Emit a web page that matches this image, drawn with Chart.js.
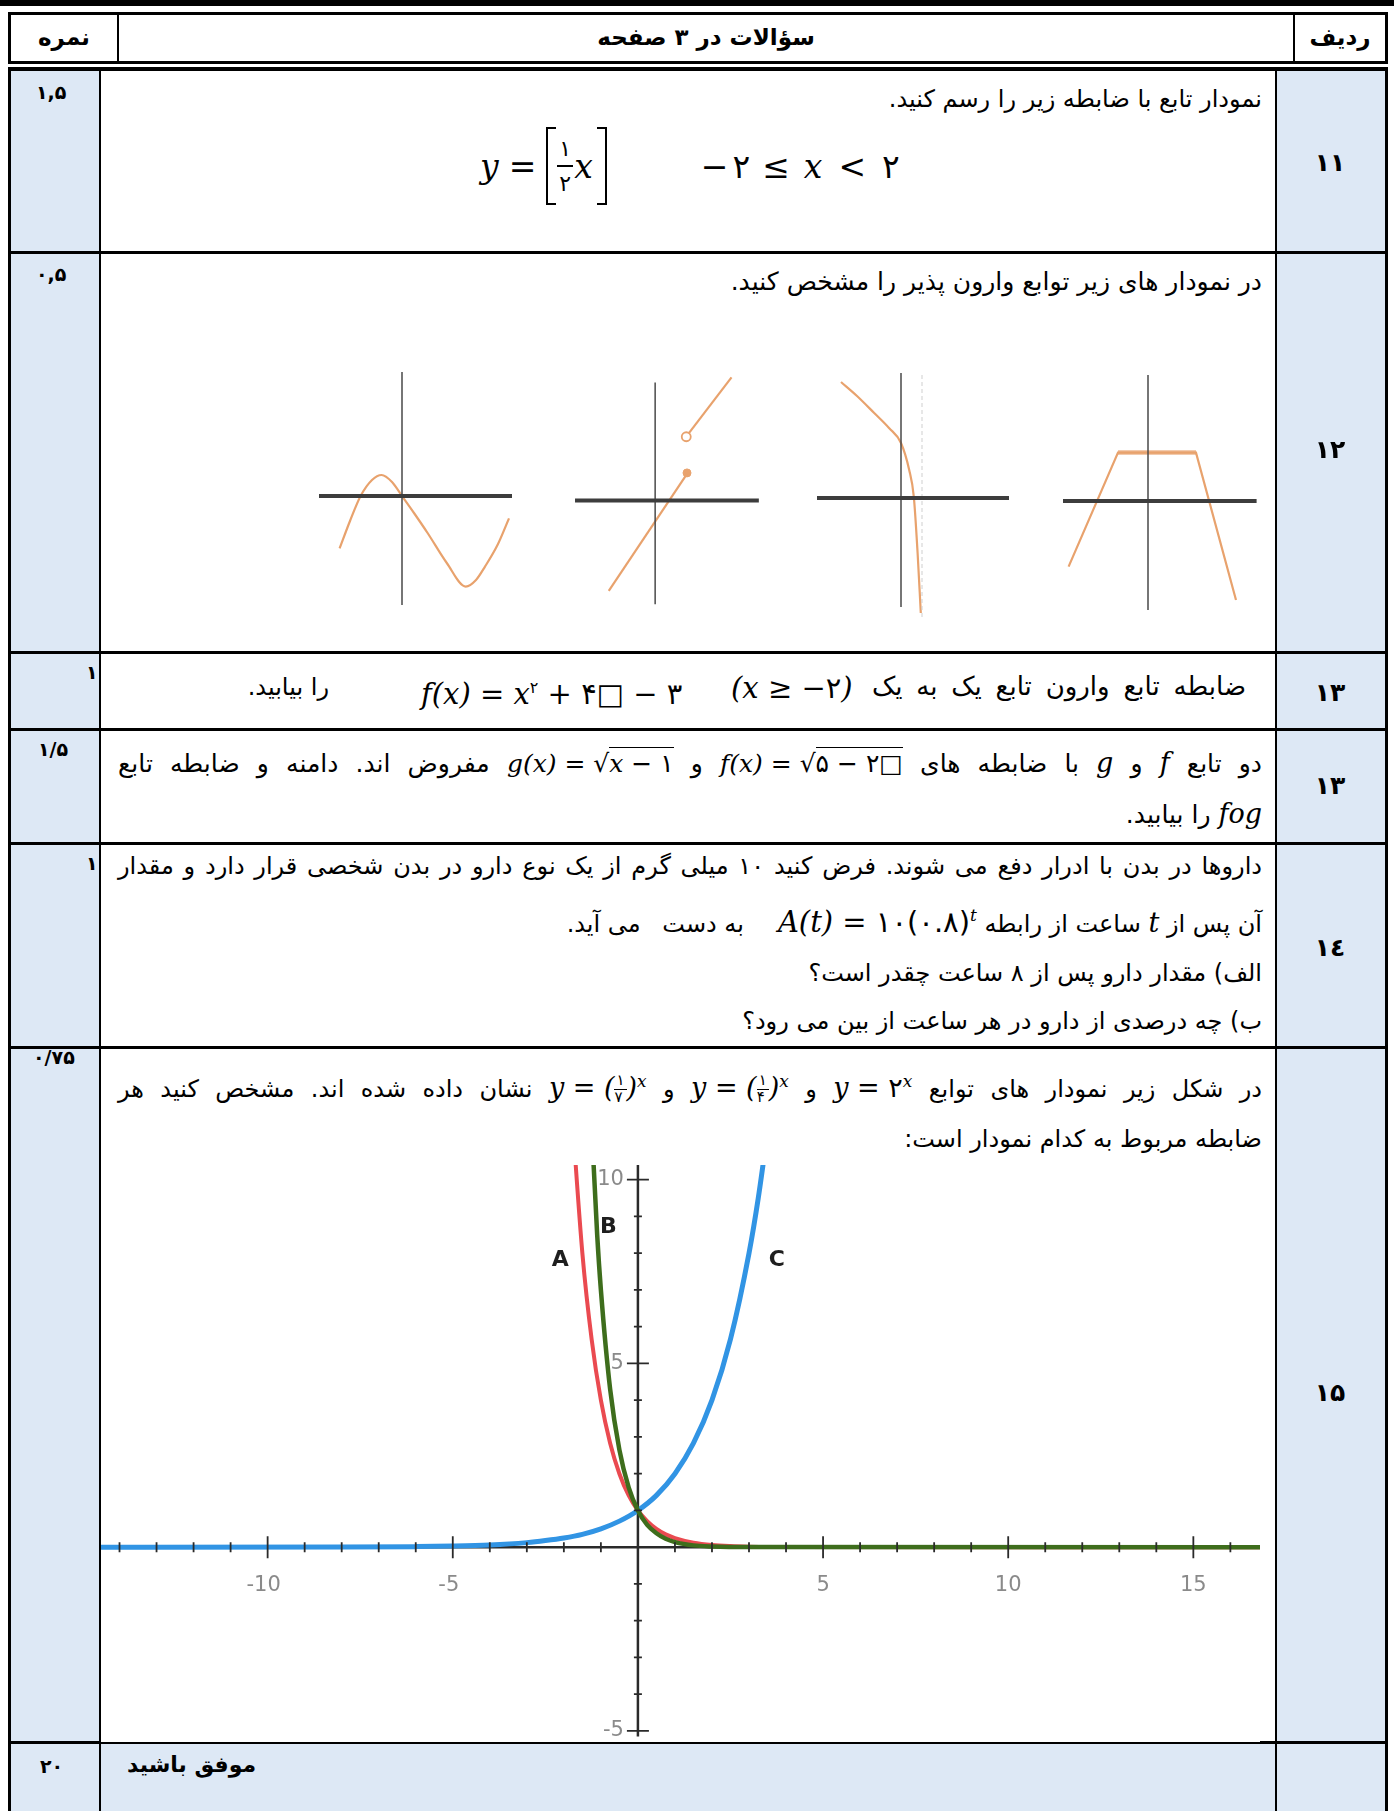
<!DOCTYPE html>
<html lang="fa">
<head>
<meta charset="utf-8">
<script src="https://cdn.jsdelivr.net/npm/chart.js@4.4.0/dist/chart.umd.min.js"></script>
<style>
  html, body { margin: 0; padding: 0; background: #fff; }
  body { width: 1394px; height: 1811px; position: relative; overflow: hidden;
         font-family: "DejaVu Sans", sans-serif; color: #000; }
  .abs { position: absolute; }
  .bg { position: absolute; background: #dde8f5; }
  .ln { position: absolute; background: #000; }
  .fa { position: absolute; direction: rtl; white-space: nowrap; font-size: 24px; line-height: 38px; }
  .just { text-align: justify; text-align-last: justify; }
  .hd { position: absolute; font-weight: bold; font-size: 23px; line-height: 30px; text-align: center; direction: rtl; }
  .sc { position: absolute; font-weight: bold; font-size: 19px; line-height: 24px; direction: rtl; }
  .rn { position: absolute; font-weight: bold; font-size: 25px; line-height: 30px; text-align: center; width: 108px; left: 1276px; }
  .m { font-family: "DejaVu Serif", serif; font-style: italic; direction: ltr; unicode-bidi: isolate;
       display: inline-block; white-space: nowrap; font-size: 27px; line-height: 30px; }
  .d { font-style: normal; font-family: "DejaVu Sans", sans-serif; }
  .frac { display: inline-block; vertical-align: middle; text-align: center; font-style: normal;
          font-family: "DejaVu Sans", sans-serif; line-height: 1.05; }
  .frac span { display: block; }
  .frac .n { border-bottom: 1.5px solid #000; padding: 0 2px; }
  .sqrt { border-top: 1.5px solid #000; padding-top: 1px; }
  .brk { display: inline-block; width: 8px; height: 74px; border: 2px solid #000; }
  canvas { position: absolute; }
</style>
</head>
<body>

<!-- header -->
<div class="ln" style="left:0;top:0;width:1394px;height:6px"></div>
<div class="abs" style="left:8px;top:12px;width:1374px;height:46px;border:3px solid #000"></div>
<div class="ln" style="left:117px;top:12px;width:2px;height:52px"></div>
<div class="ln" style="left:1293px;top:12px;width:2px;height:52px"></div>
<div class="hd" style="left:11px;top:22px;width:106px">نمره</div>
<div class="hd" style="left:119px;top:22px;width:1174px">سؤالات در ۳ صفحه</div>
<div class="hd" style="left:1295px;top:22px;width:90px">ردیف</div>

<div id="table"></div>

<!-- row 11 -->
<div class="sc" style="left:36px;top:80px">۱,۵</div>
<div class="fa" style="right:132px;top:80px">نمودار تابع با ضابطه زیر را رسم کنید.</div>
<div class="abs" style="left:480px;top:128px;height:76px;display:flex;align-items:center;white-space:nowrap;direction:ltr;font-family:'DejaVu Serif',serif;font-style:italic;font-size:33px">
  <span>y</span><span style="margin:0 10px;font-style:normal">=</span><span class="brk" style="border-right:none"></span><span class="frac" style="font-size:22px;line-height:1.5;margin:0 1px"><span class="n" style="border-bottom-width:2px">۱</span><span>۲</span></span><span>x</span><span class="brk" style="border-left:none;margin-left:4px"></span>
  <span style="margin-left:94px" class="d">−</span><span class="d" style="margin-left:4px">۲</span><span style="margin-left:12px;font-style:normal">≤</span><span style="margin-left:14px">x</span><span style="margin-left:16px;font-style:normal">&lt;</span><span class="d" style="margin-left:16px">۲</span>
</div>
<div class="rn" style="top:148px">۱۱</div>

<!-- row 12 -->
<div class="sc" style="left:36px;top:262px">۰,۵</div>
<div class="fa" style="right:132px;top:263px;font-size:25px">در نمودار های زیر توابع وارون پذیر را مشخص کنید.</div>
<canvas id="g1" width="220" height="260" style="left:312px;top:356px"></canvas>
<canvas id="g2" width="220" height="260" style="left:564px;top:361px"></canvas>
<canvas id="g3" width="220" height="260" style="left:811px;top:358px"></canvas>
<canvas id="g4" width="220" height="260" style="left:1058px;top:361px"></canvas>
<div class="rn" style="top:435px">۱۲</div>

<!-- row 13 -->
<div class="sc" style="left:86px;top:660px">۱</div>
<div class="fa just" style="left:872px;right:148px;top:667px;font-size:26px">ضابطه تابع وارون تابع یک به یک</div>
<div class="abs m" style="left:731px;top:670px;font-size:29px;line-height:36px">(x ≥ <span class="d">−۲</span>)</div>
<div class="abs m" style="left:421px;top:670px;font-size:29px;line-height:36px">f(x) = x<sup class="d" style="font-size:16px">۲</sup> + <span class="d">۴□ − ۳</span></div>
<div class="fa" style="right:1065px;top:668px">را بیابید.</div>
<div class="rn" style="top:678px">۱۳</div>

<!-- row 13b -->
<div class="sc" style="left:38px;top:737px">۱/۵</div>
<div class="fa just" style="left:118px;right:132px;top:745px;font-size:25px">دو تابع <span class="m">f</span> و <span class="m">g</span> با ضابطه های <span class="m" style="font-size:25px">f(x) = √<span class="sqrt d">۵ − ۲□</span></span> و <span class="m" style="font-size:25px">g(x) = √<span class="sqrt">x <span class="d">− ۱</span></span></span> مفروض اند. دامنه و ضابطه تابع</div>
<div class="fa" style="right:132px;top:796px;font-size:25px"><span class="m">fog</span> را بیابید.</div>
<div class="rn" style="top:771px">۱۳</div>

<!-- row 14 -->
<div class="sc" style="left:86px;top:851px">۱</div>
<div class="fa just" style="left:118px;right:132px;top:847px">داروها در بدن با ادرار دفع می شوند. فرض کنید ۱۰ میلی گرم از یک نوع دارو در بدن شخصی قرار دارد و مقدار</div>
<div class="fa" style="right:132px;top:900px">آن پس از <span class="m">t</span> ساعت از رابطه <span class="m" style="font-size:29px">A(t) = <span class="d">۱۰(۰.۸)</span><sup style="font-size:17px">t</sup></span><span style="display:inline-block;width:34px"></span>به دست <span style="display:inline-block;width:14px"></span>می آید.</div>
<div class="fa" style="right:132px;top:954px">الف) مقدار دارو پس از ۸ ساعت چقدر است؟</div>
<div class="fa" style="right:132px;top:1002px">ب) چه درصدی از دارو در هر ساعت از بین می رود؟</div>
<div class="rn" style="top:933px">١٤</div>

<!-- row 15 -->
<div class="sc" style="left:33px;top:1045px">۰/۷۵</div>
<div class="fa just" style="left:118px;right:132px;top:1066px">در شکل زیر نمودار های توابع <span class="m">y = <span class="d">۲</span><sup style="font-size:17px">x</sup></span> و <span class="m">y = (<span class="frac" style="font-size:15px"><span class="n">۱</span><span>۴</span></span>)<sup style="font-size:17px">x</sup></span> و <span class="m">y = (<span class="frac" style="font-size:15px"><span class="n">۱</span><span>۷</span></span>)<sup style="font-size:17px">x</sup></span> نشان داده شده اند. مشخص کنید هر</div>
<div class="fa" style="right:132px;top:1120px">ضابطه مربوط به کدام نمودار است:</div>
<canvas id="expChart" width="1159" height="577" style="left:101px;top:1165px;background:#fff"></canvas>
<div class="rn" style="top:1378px">۱۵</div>

<!-- last row -->
<div class="sc" style="left:40px;top:1754px">۲۰</div>
<div class="abs" style="left:127px;top:1749px;font-weight:bold;font-size:22px;line-height:32px;direction:rtl;white-space:nowrap">موفق باشید</div>

<script>
// ── Data ────────────────────────────────────────────────────────────────
// main chart: y = 2^x (C, blue), y = (1/4)^x (A, red), y = (1/7)^x (B, green)
const blueX  = [-14.5, -8, -6, -5, -4, -3, -2.5, -2, -1.5, -1, -0.5, 0, 0.5, 1, 1.5, 2, 2.5, 3, 3.25, 3.5];
const blueY  = [0, 0.004, 0.016, 0.03, 0.06, 0.125, 0.18, 0.25, 0.35, 0.5, 0.71, 1, 1.41, 2, 2.83, 4, 5.66, 8, 9.5, 11.3];
const redX   = [-1.8, -1.5, -1.25, -1, -0.75, -0.5, -0.25, 0, 0.25, 0.5, 0.75, 1, 1.5, 2, 2.5, 3, 4, 16.8];
const redY   = [12.1, 8, 5.66, 4, 2.83, 2, 1.41, 1, 0.71, 0.5, 0.35, 0.25, 0.125, 0.06, 0.03, 0.016, 0.004, 0];
const greenX = [-1.3, -1.1, -1, -0.75, -0.5, -0.25, 0, 0.25, 0.5, 0.75, 1, 1.5, 2, 3, 16.8];
const greenY = [12.5, 8.5, 7, 4.3, 2.65, 1.63, 1, 0.61, 0.38, 0.23, 0.14, 0.05, 0.02, 0.003, 0];
const xTickLabels = [-10, -5, 5, 10, 15];
const yTickLabels = [10, 5, -5];
const curveNames  = ['A', 'B', 'C'];
const curveNameX  = [-2.1, -0.8, 3.75];
const curveNameY  = [7.8, 8.7, 7.8];

// small graphs (row 12), units around each origin
const g1CurveX = [-3.12, -2.6, -2.07, -1.5, -1.02, -0.5, 0, 0.6, 1.28, 2.24, 3.19, 3.7, 4.15, 4.8, 5.35];
const g1CurveY = [-2.62, -1.25, 0, 0.8, 1.05, 0.7, 0, -0.85, -1.85, -3.35, -4.53, -4.2, -3.53, -2.4, -1.12];
const g2LowX = [-2.46, 1.69];
const g2LowY = [-4.75, 1.4];
const g2UpX  = [1.8, 4.05];
const g2UpY  = [3.55, 6.47];
const g2DotX = [1.69], g2DotY = [1.45];
const g2HoleX = [1.65], g2HoleY = [3.35];
const g3CurveX = [-3, -2.2, -1.34, -0.6, 0, 0.41, 0.64, 0.83, 0.99];
const g3CurveY = [5.8, 5.1, 4.25, 3.5, 2.75, 1.4, 0.07, -2.75, -5.75];
const g3AsymX = [1.05, 1.05];
const g3AsymY = [6.15, -5.95];
const g4CurveX = [-3.97, -1.5, 2.4, 4.4];
const g4CurveY = [-3.28, 2.42, 2.42, -4.95];
const g4FlatX  = [-1.5, 2.4];
const g4FlatY  = [2.42, 2.42];
const smallAxisX = [[-4.15, 5.5], [-4.25, 5.5], [-4.2, 5.4], [-4.25, 5.43]];
const smallAxisY = [[6.2, -5.45], [6.2, -5.45], [6.25, -5.45], [6.3, -5.45]];

// ── Table frame ──────────────────────────────────────────────────────────
(function () {
  const t = document.getElementById('table');
  const add = (cls, l, tp, w, h) => {
    const d = document.createElement('div');
    d.className = cls;
    d.style.cssText = `left:${l}px;top:${tp}px;width:${w}px;height:${h}px`;
    t.appendChild(d);
  };
  add('bg', 8, 70, 92, 1741);
  add('bg', 1276, 70, 111, 1741);
  add('bg', 8, 1742, 1379, 69);
  add('ln', 8, 67, 1380, 4);
  add('ln', 8, 67, 3, 1744);
  add('ln', 1385, 67, 3, 1744);
  add('ln', 99, 67, 2, 1744);
  add('ln', 1275, 67, 2, 1744);
  [251, 651, 728, 842, 1046, 1741].forEach(y => add('ln', 8, y, 1380, 3));
})();

// ── Helpers ──────────────────────────────────────────────────────────────
function pts(xs, ys) { return xs.map((x, i) => ({ x, y: ys[i] })); }

const ORANGE = '#e8a26d';

function lineSet(xs, ys, color, width, extra) {
  return Object.assign({
    data: pts(xs, ys), borderColor: color, borderWidth: width,
    pointRadius: 0, fill: false, tension: 0
  }, extra || {});
}

function smallChart(id, idx, sets) {
  const axes = [
    lineSet(smallAxisX[idx], [0, 0], '#3d3d3d', 4),
    lineSet([0, 0], smallAxisY[idx], '#4a4a4a', 1.5)
  ];
  new Chart(document.getElementById(id), {
    type: 'line',
    data: { datasets: axes.concat(sets) },
    options: {
      responsive: false, animation: false, events: [],
      layout: { padding: 0 },
      plugins: { legend: { display: false }, tooltip: { enabled: false } },
      scales: {
        x: { type: 'linear', min: -4.5, max: 6.5, display: false },
        y: { type: 'linear', min: -6, max: 7, display: false }
      }
    }
  });
}

// ── Small graphs ────────────────────────────────────────────────────────
smallChart('g1', 0, [
  lineSet(g1CurveX, g1CurveY, ORANGE, 2.2, { cubicInterpolationMode: 'monotone' })
]);
smallChart('g2', 1, [
  lineSet(g2LowX, g2LowY, ORANGE, 2.2),
  lineSet(g2UpX, g2UpY, ORANGE, 2.2),
  lineSet(g2DotX, g2DotY, ORANGE, 1, { showLine: false, pointRadius: 4, pointBackgroundColor: ORANGE, pointBorderColor: ORANGE }),
  lineSet(g2HoleX, g2HoleY, ORANGE, 1, { showLine: false, pointRadius: 4.5, pointBackgroundColor: '#fff', pointBorderColor: ORANGE, pointBorderWidth: 1.8 })
]);
smallChart('g3', 2, [
  lineSet(g3AsymX, g3AsymY, '#cfcfcf', 1, { borderDash: [4, 3] }),
  lineSet(g3CurveX, g3CurveY, ORANGE, 2.2, { cubicInterpolationMode: 'monotone' })
]);
smallChart('g4', 3, [
  lineSet(g4CurveX, g4CurveY, ORANGE, 2.2),
  lineSet(g4FlatX, g4FlatY, 'rgba(232,162,109,0.75)', 4.5)
]);

// ── Main exponential chart ──────────────────────────────────────────────
const axisPlugin = {
  id: 'geoAxes',
  beforeDatasetsDraw(chart) {
    const { ctx, chartArea: a, scales: { x, y } } = chart;
    const x0 = x.getPixelForValue(0), y0 = y.getPixelForValue(0);
    ctx.save();
    ctx.strokeStyle = '#2a2a2a';
    ctx.lineWidth = 2.5;
    ctx.beginPath();
    ctx.moveTo(a.left, y0); ctx.lineTo(a.right, y0);
    ctx.moveTo(x0, a.top); ctx.lineTo(x0, y.getPixelForValue(-5.15));
    ctx.stroke();
    ctx.fillStyle = '#8a8a8a';
    ctx.font = '21px "DejaVu Sans"';
    ctx.textAlign = 'center'; ctx.textBaseline = 'middle';
    xTickLabels.forEach(v => ctx.fillText(String(v), x.getPixelForValue(v) - (v < 0 ? 4 : 0), y0 + 38));
    ctx.textAlign = 'right';
    yTickLabels.forEach(v => ctx.fillText(String(v), x0 - 14, y.getPixelForValue(v)));
    ctx.restore();
  },
  afterDatasetsDraw(chart) {
    const { ctx, scales: { x, y } } = chart;
    const x0 = x.getPixelForValue(0), y0 = y.getPixelForValue(0);
    ctx.save();
    ctx.strokeStyle = '#2a2a2a';
    ctx.lineWidth = 1.8;
    ctx.beginPath();
    for (let i = Math.ceil(x.min); i <= Math.floor(x.max); i++) {
      if (i === 0) continue;
      const px = x.getPixelForValue(i), h = i % 5 === 0 ? 11 : 5;
      ctx.moveTo(px, y0 - h); ctx.lineTo(px, y0 + h);
    }
    for (let j = -5; j <= 10; j++) {
      if (j === 0) continue;
      const py = y.getPixelForValue(j), w = j % 5 === 0 ? 11 : 4;
      ctx.moveTo(x0 - w, py); ctx.lineTo(x0 + w, py);
    }
    ctx.stroke();
    ctx.fillStyle = '#1e1e1e';
    ctx.font = 'bold 22px "DejaVu Sans"';
    ctx.textAlign = 'center'; ctx.textBaseline = 'middle';
    curveNames.forEach((n, i) => ctx.fillText(n, x.getPixelForValue(curveNameX[i]), y.getPixelForValue(curveNameY[i])));
    ctx.restore();
  }
};

// dataset 0 is painted last (on top)
new Chart(document.getElementById('expChart'), {
  type: 'line',
  data: {
    datasets: [
      lineSet(greenX, greenY, '#3e6d1c', 4.5, { cubicInterpolationMode: 'monotone' }),
      lineSet(blueX, blueY, '#3194e4', 5, { cubicInterpolationMode: 'monotone' }),
      lineSet(redX, redY, '#ea4a50', 4, { cubicInterpolationMode: 'monotone' })
    ]
  },
  options: {
    responsive: false, animation: false, events: [],
    layout: { padding: 0 },
    plugins: { legend: { display: false }, tooltip: { enabled: false } },
    scales: {
      x: { type: 'linear', min: -14.5, max: 16.8, display: false },
      y: { type: 'linear', min: -5.3, max: 10.4, display: false }
    }
  },
  plugins: [axisPlugin]
});
</script>
</body>
</html>
